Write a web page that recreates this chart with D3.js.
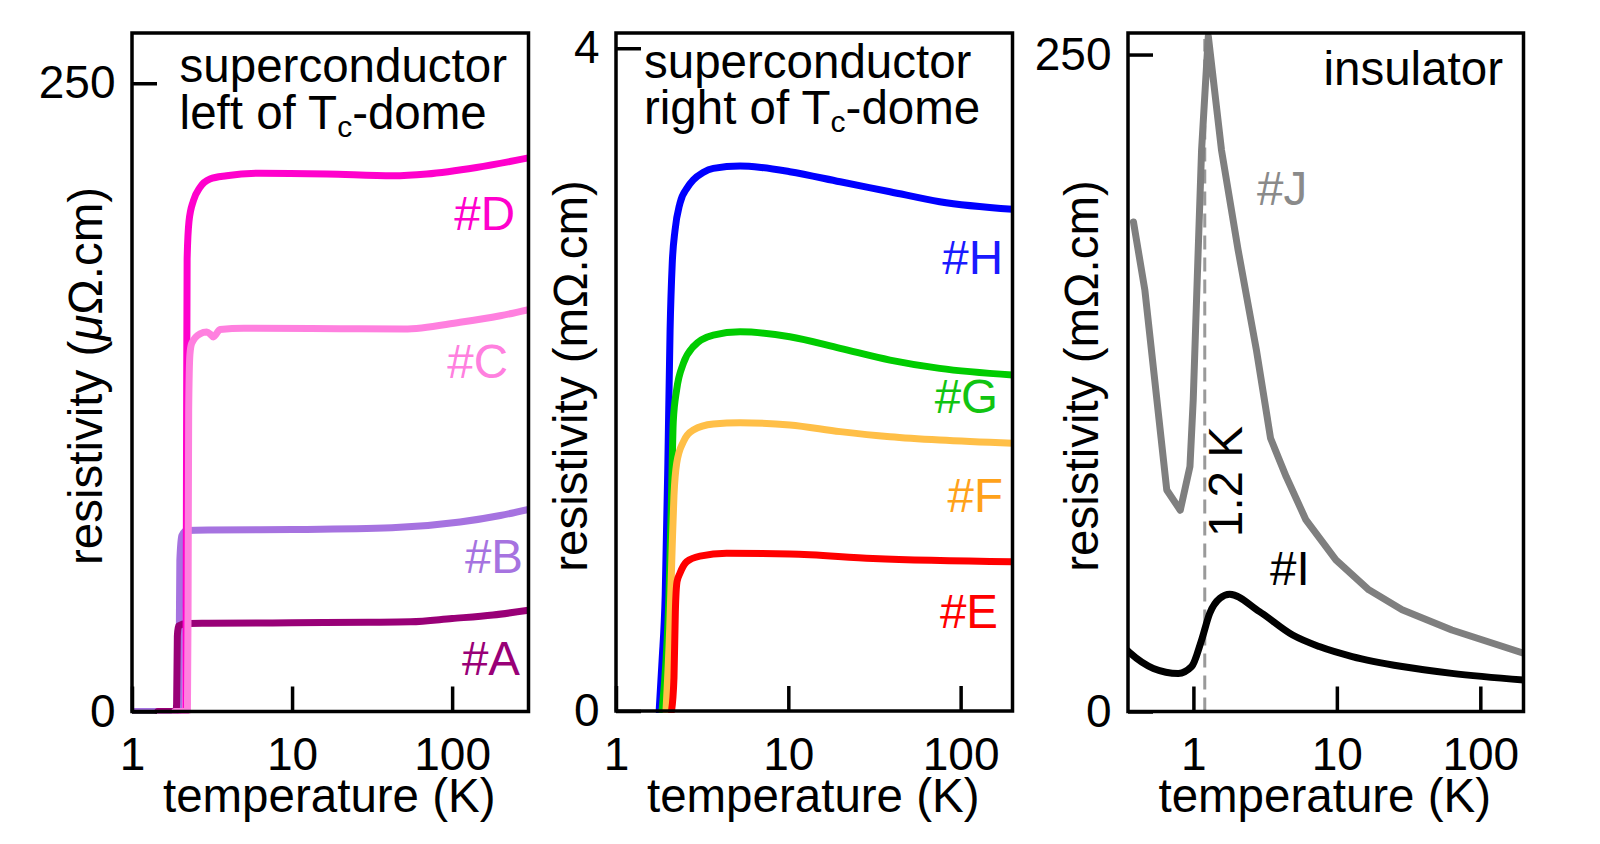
<!DOCTYPE html>
<html>
<head>
<meta charset="utf-8">
<script src="https://cdn.jsdelivr.net/npm/d3@7"></script>
<style>
  html, body { margin: 0; padding: 0; background: #fff; }
  svg { display: block; }
  text { font-family: "Liberation Sans", Arial, Helvetica, sans-serif; }
</style>
</head>
<body>
<svg id="chart" width="1600" height="844"></svg>
<script>
// ---------------- DATA ----------------
// Panel 1: superconductor left of Tc-dome (µΩ.cm) vs T (K)
const sampleA = [[1.45,0],[1.88,0],[1.9,3],[1.92,30],[1.95,34],[2.2,35],[3,35.1],[10,35.3],[30,35.5],[55,35.7],[100,37],[180,38.4],[300,40.3]];
const sampleB = [[1,0],[1.95,0],[1.97,20],[1.99,60],[2.05,70],[2.2,72],[3,72.2],[10,72.4],[42,73.1],[112,75.4],[200,78],[300,80.4]];
const sampleC = [[1.85,0],[2.22,0],[2.24,40],[2.26,120],[2.3,142],[2.36,146.5],[2.66,150.3],[2.93,151],[3.1,150],[3.22,149],[3.55,152],[5,152.5],[20,152.3],[50,152.2],[112,154.9],[200,157.5],[300,159.9]];
const sampleD = [[2.0,0],[2.17,0],[2.19,100],[2.21,180],[2.27,195],[2.42,203.3],[2.66,208.6],[3.07,211.9],[3.9,213.2],[6.3,214.2],[16.5,213.9],[42.8,213.2],[69.5,213.9],[142,216.5],[300,220.3]];
// Panel 2: superconductor right of Tc-dome (mΩ.cm)
const sampleE = [[2.1,0],[2.17,0.2],[2.21,0.6],[2.26,0.78],[2.35,0.831],[2.57,0.901],[3.07,0.935],[4.38,0.952],[10.2,0.948],[31,0.921],[200,0.901]];
const sampleF = [[1.95,0],[2.05,0.5],[2.12,1.0],[2.17,1.3],[2.25,1.495],[2.46,1.625],[2.81,1.696],[3.67,1.732],[5.25,1.74],[10.2,1.726],[20,1.686],[38.9,1.655],[75.6,1.635],[200,1.616]];
const sampleG = [[1.85,0],[1.95,0.3],[2.03,0.7],[2.1,1.3],[2.15,1.75],[2.25,1.94],[2.46,2.098],[2.81,2.199],[3.67,2.269],[5.25,2.289],[10.2,2.259],[20,2.189],[38.9,2.118],[75.6,2.068],[200,2.028]];
const sampleH = [[1.78,0],[1.85,0.3],[1.93,0.7],[2.0,1.5],[2.06,2.3],[2.12,2.7],[2.2,2.9],[2.35,3.064],[2.6,3.16],[2.81,3.205],[3.2,3.25],[3.67,3.275],[5.25,3.289],[7,3.28],[10.2,3.255],[20,3.194],[38.9,3.134],[75.6,3.074],[200,3.028]];
// Panel 3: insulator (mΩ.cm)
const sampleI = [[0.35,23],[0.363,22.2],[0.526,16.4],[0.785,14.5],[0.972,17.1],[1.14,27.2],[1.3,37.4],[1.53,43.1],[1.79,44.6],[2.89,38.0],[4.92,29.1],[7.54,24.7],[12.8,20.9],[28.5,17.1],[63.3,14.5],[200,12.0]];
const sampleJ = [[0.382,186.3],[0.459,160.3],[0.652,84.3],[0.81,76.6],[0.946,93.2],[0.997,118.6],[1.08,175.6],[1.14,213.6],[1.27,257],[1.57,213.6],[2.05,175.6],[2.75,137.5],[3.45,104],[4.43,89.4],[6.09,72.9],[9.84,57.7],[16.7,46.3],[28.5,38.7],[63.3,31.0],[200,22.2]];
const markerT = 1.2;

const seriesNames1 = ["B","A","D","C"];
const seriesNames2 = ["H","G","F","E"];
const seriesNames3 = ["I","J"];
const yTicks1 = [0, 250];
const yTicks2 = [0, 4];
const yTicks3 = [0, 250];
const xTicks = [1, 10, 100];
const xDomain1 = [1, 300], yDomain1 = [0, 270];
const xDomain2 = [1, 200], yDomain2 = [0, 4.092];
const xDomain3 = [0.35, 200], yDomain3 = [0, 258.2];
const titles1 = ["superconductor", "left of T|c|-dome"];
const titles2 = ["superconductor", "right of T|c|-dome"];
const titles3 = ["insulator"];
const markerLabel = "1.2 K";
const xLabel = "temperature (K)";

// ---------------- STYLE / LAYOUT ----------------
const dataByName = {A: sampleA, B: sampleB, C: sampleC, D: sampleD, E: sampleE, F: sampleF, G: sampleG, H: sampleH, I: sampleI, J: sampleJ};
const lineColor = {A:"#990077", B:"#a673e0", C:"#ff80df", D:"#ff00cc", E:"#ff0000", F:"#ffbf47", G:"#00cc00", H:"#0000ff", I:"#000000", J:"#7f7f7f"};
const labelColor = {A:"#990077", B:"#a673e0", C:"#ff80df", D:"#ff00cc", E:"#ff0000", F:"#ffa21a", G:"#11c411", H:"#1a1aff", I:"#000000", J:"#8a8a8a"};
const smoothCurve = {J: false};
const labelPos = {
  D:{x:515,y:230,a:"end"}, C:{x:508,y:378,a:"end"}, B:{x:523,y:573,a:"end"}, A:{x:520,y:675,a:"end"},
  H:{x:1003,y:273.5,a:"end"}, G:{x:998,y:413,a:"end"}, F:{x:1003,y:512,a:"end"}, E:{x:998,y:628,a:"end"},
  J:{x:1257,y:205,a:"start"}, I:{x:1270,y:585,a:"start"}
};

const FS = 47.5;
const svg = d3.select("#chart");

const panels = [
  {left:132, right:528.5, top:33, bottom:711.5, xd:xDomain1, yd:yDomain1, yt:yTicks1, names:seriesNames1,
   ylab:["resistivity (", "μ", "Ω.cm)"], ylabX:102, titles:titles1, titleX:179.6, titleY:[82,129], titleAnchor:"start"},
  {left:616, right:1012.5, top:33, bottom:711, xd:xDomain2, yd:yDomain2, yt:yTicks2, names:seriesNames2,
   ylab:["resistivity (mΩ.cm)"], ylabX:587, titles:titles2, titleX:644, titleY:[77.5,124], titleAnchor:"start"},
  {left:1128, right:1523.5, top:33, bottom:711.5, xd:xDomain3, yd:yDomain3, yt:yTicks3, names:seriesNames3,
   ylab:["resistivity (mΩ.cm)"], ylabX:1098, titles:titles3, titleX:1503, titleY:[85], titleAnchor:"end", marker:true}
];

panels.forEach(p => {
  const x = d3.scaleLog().domain(p.xd).range([p.left, p.right]);
  const y = d3.scaleLinear().domain(p.yd).range([p.bottom, p.top]);
  const g = svg.append("g");

  // dashed marker line
  if (p.marker) {
    g.append("line")
      .attr("x1", x(markerT)).attr("x2", x(markerT))
      .attr("y1", p.bottom).attr("y2", p.top + 6)
      .attr("stroke", "#9a9a9a").attr("stroke-width", 3)
      .attr("stroke-dasharray", "14,8");
  }

  // curves
  const clipId = "clip" + p.left;
  svg.append("clipPath").attr("id", clipId).append("rect")
    .attr("x", p.left).attr("y", p.top - 2).attr("width", p.right - p.left).attr("height", p.bottom - p.top + 4);
  p.names.forEach(n => {
    const line = d3.line().x(d => x(d[0])).y(d => y(d[1]))
      .curve(smoothCurve[n] === false ? d3.curveLinear : d3.curveMonotoneX);
    g.append("path").datum(dataByName[n])
      .attr("clip-path", `url(#${clipId})`)
      .attr("d", line)
      .attr("fill", "none")
      .attr("stroke", lineColor[n])
      .attr("stroke-width", 7)
      .attr("stroke-linejoin", "round")
      .attr("stroke-linecap", "round");
  });

  // frame
  g.append("rect")
    .attr("x", p.left).attr("y", p.top)
    .attr("width", p.right - p.left).attr("height", p.bottom - p.top)
    .attr("fill", "none").attr("stroke", "#000").attr("stroke-width", 3.5);

  // axes
  const xt = xTicks.filter(t => t >= p.xd[0] && t <= p.xd[1]);
  const xAxis = d3.axisBottom(x).tickValues(xt).tickFormat(d3.format("d")).tickSize(-25).tickPadding(26);
  const gx = g.append("g").attr("transform", `translate(0,${p.bottom})`).call(xAxis);
  const yAxis = d3.axisLeft(y).tickValues(p.yt).tickFormat(d3.format("d")).tickSize(-25).tickPadding(16.5);
  const gy = g.append("g").attr("transform", `translate(${p.left},0)`).call(yAxis);
  [gx, gy].forEach(ax => {
    ax.select(".domain").remove();
    ax.selectAll(".tick line").attr("stroke", "#000").attr("stroke-width", 3.5);
    ax.selectAll(".tick text").attr("fill", "#000").attr("font-size", 46)
      .attr("font-family", '"Liberation Sans", Arial, sans-serif');
  });

  // x label
  g.append("text")
    .attr("x", (p.left + p.right) / 2 - 1).attr("y", 812)
    .attr("text-anchor", "middle").attr("font-size", FS).text(xLabel);

  // y label
  const yl = g.append("text")
    .attr("transform", `translate(${p.ylabX},376) rotate(-90)`)
    .attr("text-anchor", "middle").attr("font-size", FS);
  p.ylab.forEach((s, i) => {
    const ts = yl.append("tspan").text(s);
    if (s === "μ") ts.attr("font-style", "italic");
  });

  // titles
  p.titles.forEach((t, i) => {
    const tx = g.append("text").attr("x", p.titleX).attr("y", p.titleY[i])
      .attr("text-anchor", p.titleAnchor).attr("font-size", FS);
    const parts = t.split("|");
    if (parts.length === 1) { tx.text(t); }
    else {
      tx.append("tspan").text(parts[0]);
      tx.append("tspan").attr("font-size", 30).attr("dy", 8).text(parts[1]);
      tx.append("tspan").attr("dy", -8).text(parts[2]);
    }
  });

  // marker label
  if (p.marker) {
    g.append("text")
      .attr("transform", `translate(1242,537) rotate(-90)`)
      .attr("font-size", FS).attr("fill", "#000").text(markerLabel);
  }

  // series labels
  p.names.forEach(n => {
    const lp = labelPos[n];
    g.append("text").attr("x", lp.x).attr("y", lp.y)
      .attr("text-anchor", lp.a).attr("font-size", FS)
      .attr("fill", labelColor[n]).text("#" + n);
  });
});
</script>
</body>
</html>
